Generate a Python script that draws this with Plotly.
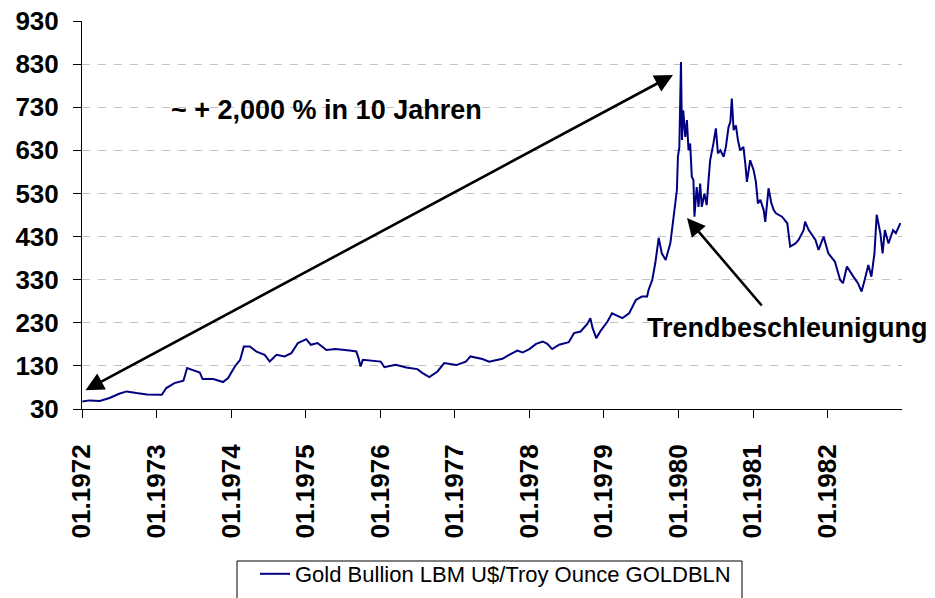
import plotly.graph_objects as go

# ---- data ----
dates = [
    "1972-01-03", "1972-02-06", "1972-03-28", "1972-05-15", "1972-07-01", "1972-08-07",
    "1972-09-24", "1972-11-14", "1973-01-26", "1973-02-17", "1973-03-29", "1973-05-12",
    "1973-05-30", "1973-06-28", "1973-07-31", "1973-08-14", "1973-10-05", "1973-11-22",
    "1973-12-17", "1974-01-19", "1974-02-14", "1974-03-04", "1974-04-02", "1974-05-05",
    "1974-06-14", "1974-07-09", "1974-08-11", "1974-09-20", "1974-10-23", "1974-11-24",
    "1975-01-04", "1975-01-26", "1975-02-28", "1975-04-13", "1975-05-27", "1975-08-04",
    "1975-09-06", "1975-09-17", "1975-09-27", "1975-10-08", "1975-11-25", "1976-01-04",
    "1976-01-22", "1976-03-17", "1976-05-08", "1976-07-01", "1976-07-27", "1976-08-29",
    "1976-10-08", "1976-11-10", "1977-01-08", "1977-02-24", "1977-03-18", "1977-05-16",
    "1977-06-18", "1977-08-22", "1977-09-24", "1977-11-03", "1977-11-29", "1978-01-01",
    "1978-02-03", "1978-03-08", "1978-03-30", "1978-04-23", "1978-05-27", "1978-07-13",
    "1978-08-08", "1978-09-09", "1978-10-12", "1978-10-27", "1978-11-07", "1978-11-25",
    "1978-12-17", "1979-01-19", "1979-02-10", "1979-04-02", "1979-05-05", "1979-06-07",
    "1979-07-06", "1979-08-01", "1979-08-08", "1979-08-26", "1979-09-10", "1979-09-27",
    "1979-10-12", "1979-10-31", "1979-11-23", "1979-12-09", "1979-12-25", "1979-12-30",
    "1980-01-06", "1980-01-14", "1980-01-19", "1980-01-25", "1980-02-04", "1980-02-12",
    "1980-02-20", "1980-02-28", "1980-03-07", "1980-03-15", "1980-03-20", "1980-03-31",
    "1980-04-09", "1980-04-17", "1980-04-25", "1980-05-08", "1980-05-19", "1980-05-28",
    "1980-06-05", "1980-06-21", "1980-07-03", "1980-07-13", "1980-07-25", "1980-08-10",
    "1980-08-21", "1980-09-03", "1980-09-12", "1980-09-19", "1980-09-28", "1980-10-09",
    "1980-10-19", "1980-10-30", "1980-11-15", "1980-11-24", "1980-12-02", "1980-12-18",
    "1981-01-04", "1981-01-15", "1981-01-25", "1981-02-06", "1981-02-22", "1981-03-02",
    "1981-03-18", "1981-04-01", "1981-04-12", "1981-04-23", "1981-05-23", "1981-06-18",
    "1981-06-25", "1981-07-02", "1981-07-28", "1981-08-12", "1981-09-06", "1981-09-13",
    "1981-10-01", "1981-11-03", "1981-11-18", "1981-12-13", "1982-01-05", "1982-02-06",
    "1982-03-04", "1982-03-18", "1982-04-06", "1982-04-20", "1982-05-08", "1982-05-30",
    "1982-06-17", "1982-07-02", "1982-07-20", "1982-08-04", "1982-08-19", "1982-08-30",
    "1982-09-17", "1982-09-28", "1982-10-09", "1982-10-27", "1982-11-18", "1982-12-02",
    "1982-12-24",
]
gold_price = [
    47.6, 50, 48.5, 55.5, 65.4, 70.8,
    67, 63.8, 63, 78.6, 90, 95.5,
    125, 121, 114.8, 99.5, 99.5, 92.5,
    101.8, 128.7, 144, 175, 175, 163,
    155.7, 140, 155.7, 152, 159.6, 183,
    192, 179, 183, 167, 169, 165.7,
    163.4, 148, 128.7, 144, 142.6, 140,
    127, 132.6, 126.3, 122.6, 113.4, 104,
    117, 136.5, 131.9, 140, 151.9, 145.8,
    139.6, 146.5, 155.7, 165.7, 161, 169,
    181, 186.6, 181, 169, 179, 185,
    206, 209.7, 227.5, 240.7, 217.6, 194.4,
    212, 233, 252, 240.7, 252, 283,
    290.8, 290.8, 306, 329, 368, 427,
    391, 375.8, 415, 484, 538, 615,
    638, 835, 654, 723, 661, 700,
    630, 646, 569, 561, 476, 545,
    499, 553, 499, 530, 503, 561,
    607, 646, 681, 623, 630, 615,
    638, 684, 696, 750, 677, 688,
    654, 630, 638, 600, 557, 607,
    584, 557, 507, 515, 492, 464,
    542, 507, 492, 484, 476, 460.8,
    429.7, 406.6, 414, 422, 445, 464.5,
    445, 422, 399, 429.7, 391, 372,
    329.4, 321.8, 360.3, 348.7, 337, 321.8,
    302.4, 329.4, 364, 337, 391, 480.7,
    437.6, 391, 445, 414, 445, 437.6,
    461,
]
series_name = "Gold Bullion LBM U$/Troy Ounce GOLDBLN"
tick_dates = ["1972-01-01", "1973-01-01", "1974-01-01", "1975-01-01", "1976-01-01",
              "1977-01-01", "1978-01-01", "1979-01-01", "1980-01-01", "1981-01-01",
              "1982-01-01"]
tick_labels = ["01.1972", "01.1973", "01.1974", "01.1975", "01.1976", "01.1977",
               "01.1978", "01.1979", "01.1980", "01.1981", "01.1982"]
y_ticks = [30, 130, 230, 330, 430, 530, 630, 730, 830, 930]
note_growth = "~ + 2,000 % in 10 Jahren"
note_trend = "Trendbeschleunigung"

# ---- layout geometry (pixels) ----
W, H = 935, 598
ML, MR, MT, MB = 82, 33, 21, 189
PW, PH = W - ML - MR, H - MT - MB


def px(x):
    return (x - ML) / PW


def py(y):
    return (H - MB - y) / PH


FONT = "Arial, Liberation Sans, Helvetica, sans-serif"

fig = go.Figure()
fig.add_trace(go.Scatter(
    x=dates, y=gold_price, mode="lines", name=series_name,
    line=dict(color="#000080", width=2), showlegend=True,
))

fig.update_layout(
    width=W, height=H,
    margin=dict(l=ML, r=MR, t=MT, b=MB, autoexpand=False),
    paper_bgcolor="white", plot_bgcolor="white",
    font=dict(family=FONT, color="black"),
    showlegend=True,
    legend=dict(
        orientation="h", x=px(255), y=py(553), xanchor="left", yanchor="top",
        font=dict(family=FONT, size=22, color="black"),
        bgcolor="rgba(0,0,0,0)", borderwidth=0,
    ),
    xaxis=dict(
        type="date", range=["1972-01-01", "1983-01-01"], automargin=False,
        tickmode="array", tickvals=tick_dates, ticktext=tick_labels,
        tickangle=-90, tickfont=dict(family=FONT, size=26, weight="bold"),
        ticks="outside", ticklen=8, tickcolor="black", tickwidth=1,
        showgrid=False, showline=True, linecolor="black", linewidth=1,
        zeroline=False, ticklabelstandoff=16,
    ),
    yaxis=dict(
        range=[30, 930], tickmode="array", tickvals=y_ticks, automargin=False,
        tickfont=dict(family=FONT, size=26, weight="bold"),
        ticks="outside", ticklen=8, tickcolor="black", tickwidth=1,
        showgrid=True, gridcolor="#c0c0c0", griddash="8px,8px", gridwidth=1,
        showline=True, linecolor="black", linewidth=1, zeroline=False,
        ticklabelstandoff=9,
    ),
    shapes=[
        dict(type="rect", xref="paper", yref="paper",
             x0=px(237), x1=px(742), y0=py(561), y1=py(640),
             line=dict(color="black", width=1), fillcolor="rgba(0,0,0,0)"),
    ],
)

# annotations: texts
fig.add_annotation(text=note_growth, xref="paper", yref="paper",
                   x=px(326), y=py(110.5), xanchor="center", yanchor="middle",
                   showarrow=False, font=dict(family=FONT, size=27, weight="bold", color="black"))
fig.add_annotation(text=note_trend, xref="paper", yref="paper",
                   x=px(787), y=py(328), xanchor="center", yanchor="middle",
                   showarrow=False, font=dict(family=FONT, size=27, weight="bold", color="black"))

# arrows
fig.add_annotation(text="", xref="paper", yref="paper",
                   x=px(673), y=py(75), ax=84 - 673, ay=391 - 75,
                   axref="pixel", ayref="pixel",
                   showarrow=True, arrowhead=2, startarrowhead=2, arrowside="end+start",
                   arrowsize=1.4, startarrowsize=1.4, arrowwidth=2.6, arrowcolor="black",
                   standoff=0, startstandoff=0)
fig.add_annotation(text="", xref="paper", yref="paper",
                   x=px(687), y=py(218), ax=763 - 687, ay=307 - 218,
                   axref="pixel", ayref="pixel",
                   showarrow=True, arrowhead=2, arrowsize=1.4, arrowwidth=2.6,
                   arrowcolor="black", standoff=0)

# remove the browser's default page margin so the figure sits at the window's corner
fig.write_html(
    "out.html",
    config={"displayModeBar": False},
    post_script="document.body.style.margin='0';document.body.style.overflow='hidden';",
)
